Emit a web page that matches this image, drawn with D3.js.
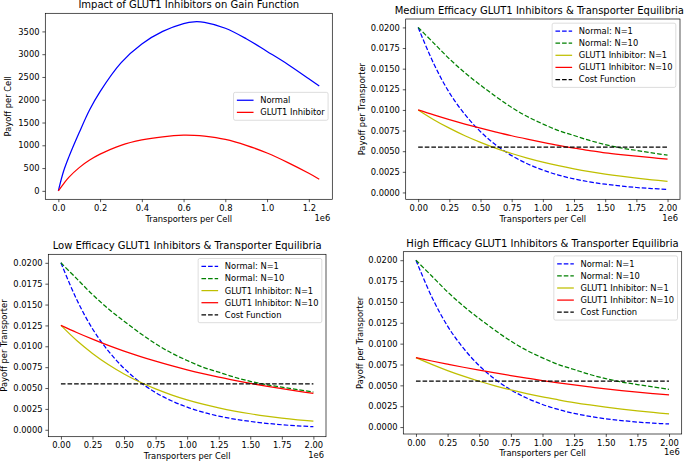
<!DOCTYPE html>
<html><head><meta charset="utf-8">
<script src="https://cdn.jsdelivr.net/npm/d3@7"></script>
<style>
body{margin:0;background:#fff;}
text{font-family:"DejaVu Sans",sans-serif;fill:#000;}
</style></head><body>
<svg id="c" width="685" height="461"></svg>
<script>
// ---------- DATA (x in units of 1e6 transporters per cell) ----------
const gainX       = [0,0.025,0.05,0.1,0.15,0.2,0.3,0.4,0.5,0.6,0.65,0.7,0.8,0.9,1.0,1.1,1.2,1.25];
const gainNormal  = [0,430,740,1280,1780,2180,2810,3225,3500,3672,3712,3700,3570,3340,3060,2775,2460,2300];
const gainInhib   = [0,155,295,510,675,805,1000,1118,1187,1222,1218,1200,1128,1000,830,620,385,256];

const transporters = [0,0.125,0.25,0.375,0.5,0.625,0.75,0.875,1.0,1.125,1.25,1.375,1.5,1.625,1.75,1.875,2.0];
const normalN1  = [0.0200,0.0156,0.0121,0.00945,0.00736,0.00573,0.00446,0.00348,0.00271,0.00211,0.00164,0.00128,0.00100,0.00078,0.00060,0.00047,0.00037];
const normalN10 = [0.0200,0.0181,0.0162,0.0145,0.0130,0.0116,0.0103,0.0092,0.0083,0.0075,0.0069,0.0063,0.0058,0.0054,0.0051,0.0048,0.00452];

const mediumInhibN1  = [0.0100,0.00882,0.00779,0.00687,0.00607,0.00535,0.00472,0.00417,0.00368,0.00325,0.00287,0.00253,0.00223,0.00197,0.00174,0.00153,0.00135];
const mediumInhibN10 = [0.0100,0.00939,0.00882,0.00829,0.00779,0.00732,0.00687,0.00646,0.00607,0.00570,0.00537,0.00508,0.00480,0.00458,0.00439,0.00421,0.00405];
const lowInhibN1     = [0.0125,0.01069,0.00915,0.00782,0.00669,0.00572,0.00490,0.00419,0.00358,0.00306,0.00262,0.00224,0.00192,0.00164,0.00140,0.00120,0.00103];
const lowInhibN10    = [0.0125,0.01165,0.01085,0.01010,0.00942,0.00880,0.00822,0.00768,0.00718,0.00672,0.00630,0.00592,0.00556,0.00523,0.00492,0.00463,0.00436];
const highInhibN1    = [0.00833,0.00751,0.00677,0.00610,0.00549,0.00495,0.00446,0.00402,0.00362,0.00327,0.00294,0.00265,0.00239,0.00215,0.00194,0.00175,0.00157];
const highInhibN10   = [0.00833,0.00792,0.00754,0.00717,0.00682,0.00649,0.00617,0.00587,0.00558,0.00531,0.00505,0.00481,0.00458,0.00437,0.00418,0.00401,0.00385];

const costX = [0, 2.0];
const costY = [0.0055, 0.0055];

const gainXTicks = [0,0.2,0.4,0.6,0.8,1.0,1.2];
const gainYTicks = [0,500,1000,1500,2000,2500,3000,3500];
const ptXTicks = [0,0.25,0.5,0.75,1.0,1.25,1.5,1.75,2.0];
const ptYTicks = [0,0.0025,0.005,0.0075,0.01,0.0125,0.015,0.0175,0.02];

const legendGain = ["Normal","GLUT1 Inhibitor"];
const legendPT = ["Normal: N=1","Normal: N=10","GLUT1 Inhibitor: N=1","GLUT1 Inhibitor: N=10","Cost Function"];

// ---------- DRAWING ----------
const W = 685;
const svg = d3.select("#c");
const FS = 8.33;
const LW = 1.25;
const DASH = "4.6,2";

function pad(ext){ const r = ext[1]-ext[0]; return [ext[0]-0.05*r, ext[1]+0.05*r]; }

function panel(o){
  const [L,T,R,B] = o.rect;
  const x = d3.scaleLinear().domain(o.xDomain).range([L,R]);
  const y = d3.scaleLinear().domain(o.yDomain).range([B,T]);
  const g = svg.append("g");
  const cid = "clip"+o.id;
  svg.append("clipPath").attr("id",cid).append("rect")
    .attr("x",L).attr("y",T).attr("width",R-L).attr("height",B-T);
  const lg = g.append("g").attr("clip-path",`url(#${cid})`);
  o.series.forEach(s=>{
    const line = d3.line().x((d,i)=>x(s.x[i])).y(d=>y(d)).curve(d3.curveCatmullRom.alpha(0.5));
    lg.append("path").attr("d",line(s.y)).attr("fill","none")
      .attr("stroke",s.color).attr("stroke-width",LW)
      .attr("stroke-dasharray",s.dash?DASH:null);
  });
  // axes
  const gx = g.append("g").attr("transform",`translate(0,${B})`)
    .call(d3.axisBottom(x).tickValues(o.xTicks).tickFormat(o.xFmt).tickSize(2.9).tickPadding(2.9));
  const gy = g.append("g").attr("transform",`translate(${L},0)`)
    .call(d3.axisLeft(y).tickValues(o.yTicks).tickFormat(o.yFmt).tickSize(2.9).tickPadding(2.9));
  [gx,gy].forEach(a=>{
    a.select(".domain").remove();
    a.selectAll("line").attr("stroke","#000").attr("stroke-width",0.67);
    a.selectAll("text").attr("font-size",FS).attr("font-family","DejaVu Sans").attr("fill","#000");
  });
  // frame
  g.append("rect").attr("x",L).attr("y",T).attr("width",R-L).attr("height",B-T)
    .attr("fill","none").attr("stroke","#000").attr("stroke-width",0.67);
  // title (kept inside the page if it would overflow the right edge)
  const tt = g.append("text").attr("x",(L+R)/2).attr("y",T-5).attr("text-anchor","middle")
    .attr("font-size",10).text(o.title);
  const tw = tt.node().getComputedTextLength();
  if ((L+R)/2 + tw/2 > W - 1) tt.attr("x", W - 1 - tw/2);
  // x label + offset
  g.append("text").attr("x",(L+R)/2).attr("y",B+19.5).attr("dy","0.35em").attr("text-anchor","middle")
    .attr("font-size",FS).text(o.xLabel);
  g.append("text").attr("x",R-2).attr("y",B+18.5).attr("dy","0.35em").attr("text-anchor","end")
    .attr("font-size",FS).text("1e6");
  // y label
  g.append("text").attr("transform",`translate(${o.yLabelX},${(T+B)/2}) rotate(-90)`)
    .attr("dy","0.35em").attr("text-anchor","middle").attr("font-size",FS).text(o.yLabel);
  // legend
  const leg = g.append("g");
  const box = leg.append("rect");
  const items = o.series.map((s,i)=>({s, label:o.legend[i]}));
  const texts = items.map((it,i)=> leg.append("text").attr("font-size",FS).attr("dy","0.35em").text(it.label));
  const maxW = d3.max(texts, t=>t.node().getComputedTextLength());
  const w = 3.33+16.7+6.67+maxW+3.33;
  const h = 15.8 + (items.length-1)*12.1;
  const x0 = R - 4.2 - w;
  const y0 = o.legendPos==="right" ? (T+B)/2 - h/2 : T + 4.2;
  box.attr("x",x0).attr("y",y0).attr("width",w).attr("height",h).attr("rx",1.7)
    .attr("fill","#fff").attr("fill-opacity",0.8).attr("stroke","#cccccc").attr("stroke-width",0.67);
  items.forEach((it,i)=>{
    const cy = y0 + 7.9 + i*12.1;
    leg.append("line").attr("x1",x0+3.33).attr("x2",x0+20).attr("y1",cy).attr("y2",cy)
      .attr("stroke",it.s.color).attr("stroke-width",LW).attr("stroke-dasharray",it.s.dash?DASH:null);
    texts[i].attr("x",x0+26.7).attr("y",cy);
  });
}

const ptYDomain = [-0.00083, 0.02102];
const ptXDomain = pad([0,2]);
const ptSeries = (n1,n10)=>[
  {x:transporters, y:normalN1, color:"#0000ff", dash:true},
  {x:transporters, y:normalN10, color:"#008000", dash:true},
  {x:transporters, y:n1, color:"#bfbf00", dash:false},
  {x:transporters, y:n10, color:"#ff0000", dash:false},
  {x:costX, y:costY, color:"#000000", dash:true}
];
const f2 = d3.format(".2f"), f4 = d3.format(".4f"), f1 = d3.format(".1f");

panel({id:"tl", rect:[45.3,13.3,332.3,199.3],
  xDomain:pad(d3.extent(gainX)), yDomain:pad([0,d3.max(gainNormal)]),
  xTicks:gainXTicks, yTicks:gainYTicks, xFmt:f1, yFmt:d3.format("d"),
  series:[{x:gainX,y:gainNormal,color:"#0000ff"},{x:gainX,y:gainInhib,color:"#ff0000"}],
  legend:legendGain, legendPos:"right",
  title:"Impact of GLUT1 Inhibitors on Gain Function",
  xLabel:"Transporters per Cell", yLabel:"Payoff per Cell", yLabelX:8.3});

panel({id:"tr", rect:[405.7,19,680,199.3],
  xDomain:ptXDomain, yDomain:ptYDomain, xTicks:ptXTicks, yTicks:ptYTicks, xFmt:f2, yFmt:f4,
  series:ptSeries(mediumInhibN1, mediumInhibN10), legend:legendPT, legendPos:"upper",
  title:"Medium Efficacy GLUT1 Inhibitors & Transporter Equilibria",
  xLabel:"Transporters per Cell", yLabel:"Payoff per Transporter", yLabelX:361.7});

panel({id:"bl", rect:[48.3,254.3,326,436.7],
  xDomain:ptXDomain, yDomain:ptYDomain, xTicks:ptXTicks, yTicks:ptYTicks, xFmt:f2, yFmt:f4,
  series:ptSeries(lowInhibN1, lowInhibN10), legend:legendPT, legendPos:"upper",
  title:"Low Efficacy GLUT1 Inhibitors & Transporter Equilibria",
  xLabel:"Transporters per Cell", yLabel:"Payoff per Transporter", yLabelX:4.5});

panel({id:"br", rect:[403.3,251.7,681.7,434],
  xDomain:ptXDomain, yDomain:ptYDomain, xTicks:ptXTicks, yTicks:ptYTicks, xFmt:f2, yFmt:f4,
  series:ptSeries(highInhibN1, highInhibN10), legend:legendPT, legendPos:"upper",
  title:"High Efficacy GLUT1 Inhibitors & Transporter Equilibria",
  xLabel:"Transporters per Cell", yLabel:"Payoff per Transporter", yLabelX:360});
</script>
</body></html>
